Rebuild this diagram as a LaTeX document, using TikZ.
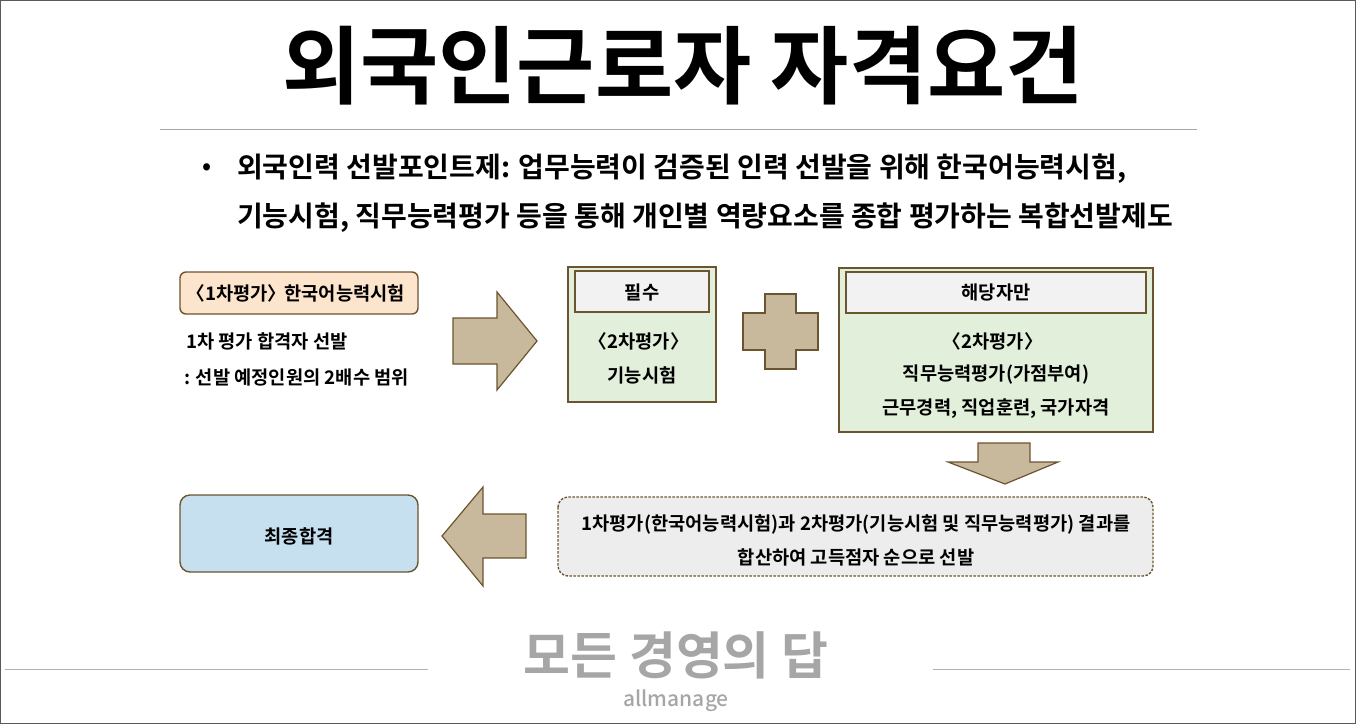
\documentclass[tikz,border=0pt]{standalone}
\usepackage{fontspec}
\setmainfont{Noto Sans CJK KR}[BoldFont={* Bold}]
\newfontfamily\kr{Noto Sans CJK KR Bold}
\newfontfamily\krm{Noto Sans CJK KR Medium}
\newcommand{\lb}{\hspace{-0.35em}〈}
\newcommand{\rb}{〉\hspace{-0.35em}}
\definecolor{brd}{HTML}{6B5430}
\definecolor{tan}{HTML}{C9B99C}
\definecolor{peach}{HTML}{FCE4CD}
\definecolor{grn}{HTML}{E2EFDA}
\definecolor{hdr}{HTML}{F2F2F2}
\definecolor{blu}{HTML}{C6E0F0}
\definecolor{dbox}{HTML}{EDEDED}
\definecolor{foot}{HTML}{A6A6A6}
\begin{document}
\begin{tikzpicture}[x=1pt,y=-1pt,
  box/.style={draw=brd,line width=1.4pt},
  arr/.style={draw=brd,fill=tan,line width=1.2pt,line join=miter},
  txt/.style={font=\kr\fontsize{18.7}{22}\selectfont,inner sep=0pt},
  btxt/.style={font=\kr\fontsize{28}{32}\selectfont,inner sep=0pt,anchor=west}]
\useasboundingbox (0,0) rectangle (1356,724);
\draw[gray!70!black,line width=1pt] (0.5,0.5) rectangle (1355.5,723.5);
\node[font=\kr\fontsize{85}{90}\selectfont,inner sep=0pt] (title) at (683,66) {외국인근로자 자격요건};
\draw[gray!70,line width=1pt] (160,129) -- (1197,129);
\node[font=\kr\fontsize{24}{26}\selectfont,inner sep=0pt] (bul) at (207,169) {•};
\node[btxt] (l1) at (237,169) {외국인력 선발포인트제: 업무능력이 검증된 인력 선발을 위해 한국어능력시험,};
\node[btxt] (l2) at (237,218) {기능시험, 직무능력평가 등을 통해 개인별 역량요소를 종합 평가하는 복합선발제도};
% box1
\draw[box,fill=peach,rounded corners=6pt] (180,272) rectangle (418,314);
\node[txt] (b1) at (299,293) {\lb 1차평가\rb\ 한국어능력시험};
\node[txt,anchor=west] (b1a) at (186,341) {1차 평가 합격자 선발};
\node[txt,anchor=west] (b1b) at (184,377) {: 선발 예정인원의 2배수 범위};
% right arrow
\draw[arr] (453,318) -- (497,318) -- (497,292) -- (537,341) -- (497,390) -- (497,364) -- (453,364) -- cycle;
% box2
\draw[box,fill=grn] (568,267) rectangle (716,402);
\draw[box,fill=hdr] (575,271) rectangle (709,312);
\node[txt] (h2) at (642,292) {필수};
\node[txt] (b2a) at (642,341) {\lb 2차평가\rb};
\node[txt] (b2b) at (642,375) {기능시험};
% plus
\draw[arr] (765,294) -- (796,294) -- (796,313) -- (818,313) -- (818,350) -- (796,350) -- (796,369) -- (765,369) -- (765,350) -- (743,350) -- (743,313) -- (765,313) -- cycle;
% box3
\draw[box,fill=grn] (839,268) rectangle (1153,432);
\draw[box,fill=hdr] (846,272) rectangle (1146,313);
\node[txt] (h3) at (996,292) {해당자만};
\node[txt] (b3a) at (996,341) {\lb 2차평가\rb};
\node[txt] (b3b) at (996,375) {직무능력평가(가점부여)};
\node[txt] (b3c) at (996,409) {근무경력, 직업훈련, 국가자격};
% down arrow
\draw[arr] (978,443) -- (1030,443) -- (1030,462) -- (1058,462) -- (1005,484) -- (948,462) -- (978,462) -- cycle;
% dashed box
\draw[draw=brd,line width=1.4pt,dash pattern=on 2.5pt off 1.5pt,fill=dbox,rounded corners=10pt] (558,497) rectangle (1153,576);
\node[txt] (d1) at (856,524) {1차평가(한국어능력시험)과 2차평가(기능시험 및 직무능력평가) 결과를};
\node[txt] (d2) at (856,557) {합산하여 고득점자 순으로 선발};
% left arrow
\draw[arr] (526,514) -- (483,514) -- (483,487) -- (442,536) -- (483,586) -- (483,558) -- (526,558) -- cycle;
% final
\draw[box,fill=blu,rounded corners=10pt] (180,495) rectangle (418,572);
\node[txt] (fin) at (299,536) {최종합격};
% footer
\node[font=\kr\fontsize{51}{54}\selectfont,text=foot,inner sep=0pt] (ft) at (676,655) {모든 경영의 답};
\draw[gray!60,line width=0.8pt] (5,669) -- (428,669);
\draw[gray!60,line width=0.8pt] (933,669) -- (1350,669);
\node[font=\krm\fontsize{21}{24}\selectfont,text=foot,inner sep=0pt] (al) at (676,701) {allmanage};
\end{tikzpicture}
\end{document}
